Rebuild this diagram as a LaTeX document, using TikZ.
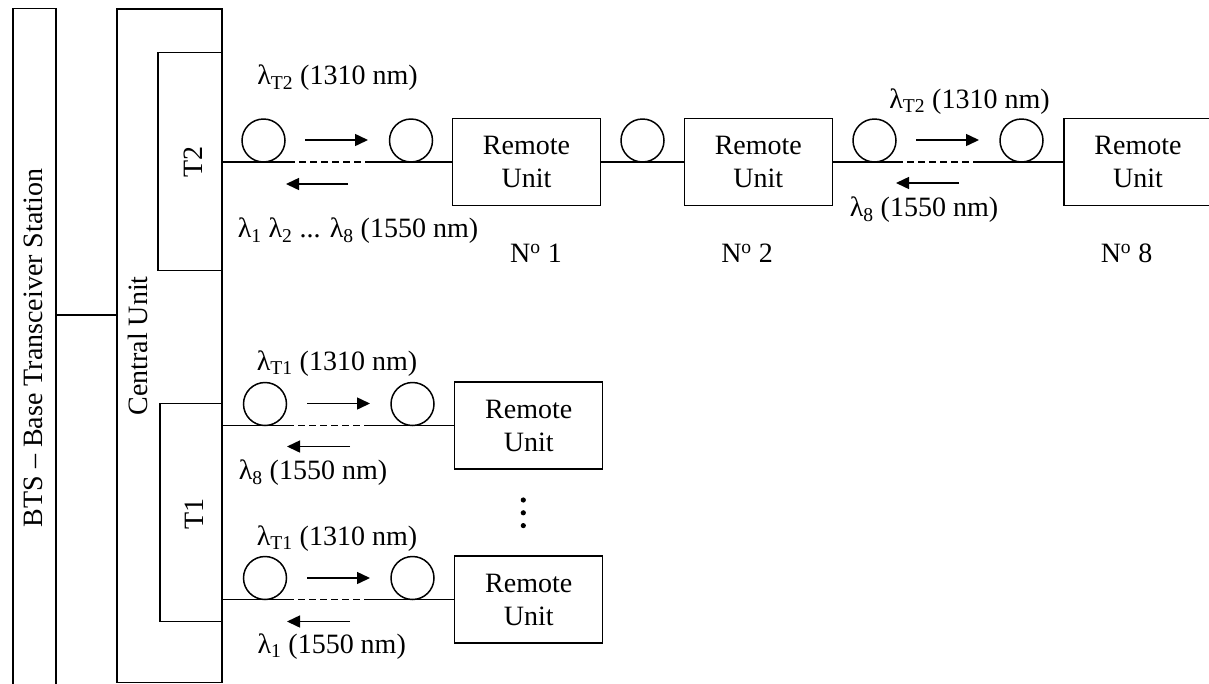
\documentclass[tikz,border=0pt]{standalone}
\usepackage{fontspec}
\setmainfont{Liberation Serif}
\usetikzlibrary{arrows.meta}
\begin{document}
\begin{tikzpicture}[x=1pt,y=-1pt,
  font=\fontsize{28}{33}\selectfont,
  line width=1.5pt,
  box/.style={draw, rectangle, inner sep=0pt},
  ru/.style={box, minimum width=148pt, minimum height=87pt, align=center},
  ring/.style={draw, circle, minimum size=43pt, inner sep=0pt},
  arr/.style={-{Triangle[length=13pt,width=12pt]}},
  dsh/.style={dash pattern=on 7pt off 4pt},
  lbl/.style={inner sep=0pt}]
\clip (0,0) rectangle (1209,683);
\fill[white] (0,0) rectangle (1209,683);

% BTS and central unit
\node[box, minimum width=43pt, minimum height=700pt] (bts) at (34.5,358.7) {};
\node[lbl, rotate=90] (btst) at (33,348) {BTS -- Base Transceiver Station};
\node[box, minimum width=105pt, minimum height=673.5pt] (cu) at (169.5,345.5) {};
\node[lbl, rotate=90] (cut) at (137.5,346) {Central Unit};
\node[box, fill=white, minimum width=63.5pt, minimum height=218pt] (t2) at (189.75,161.4) {};
\node[lbl, rotate=90] (t2t) at (193,162) {T2};
\node[box, fill=white, minimum width=61.5pt, minimum height=218pt] (t1) at (190.75,512.6) {};
\node[lbl, rotate=90] (t1t) at (194,514) {T1};
\coordinate (j0) at (0,315);
\draw (bts.east |- j0) -- (cu.west |- j0);

% ---------- upper chain (T2) ----------
\node[ring] (c1) at (263.5,140.5) {};
\node[ring] (c2) at (411,140.5) {};
\node[ru] (ru1) at (526.5,162) {Remote\\Unit};
\node[ring] (c3) at (642.5,140.5) {};
\node[ru] (ru2) at (758.3,162) {Remote\\Unit};
\node[ring] (c4) at (874.5,140.5) {};
\node[ring] (c5) at (1021.5,140.5) {};
\node[ru] (ru8) at (1138,162) {Remote\\Unit};

\coordinate (d1s) at (288,162);
\coordinate (d1e) at (368,162);
\draw (t2.east |- d1s) -- (d1s);
\draw[dsh] (d1s) -- (d1e);
\draw (d1e) -- (ru1.west);
\draw (ru1.east) -- (ru2.west);
\coordinate (d2s) at (896,162);
\coordinate (d2e) at (979,162);
\draw (ru2.east) -- (d2s);
\draw[dsh] (d2s) -- (d2e);
\draw (d2e) -- (ru8.west);

\coordinate (a1s) at (305,140);
\coordinate (a1e) at (368,140);
\draw[arr] (a1s) -- (a1e);
\coordinate (b1s) at (348,184);
\coordinate (b1e) at (286,184);
\draw[arr] (b1s) -- (b1e);
\coordinate (a2s) at (916,140);
\coordinate (a2e) at (979,140);
\draw[arr] (a2s) -- (a2e);
\coordinate (b2s) at (959,183);
\coordinate (b2e) at (896,183);
\draw[arr] (b2s) -- (b2e);

\node[lbl] (l1) at (337.5,78) {λ\textsubscript{T2} (1310 nm)};
\node[lbl, anchor=west] (l2) at (237,231) {λ\textsubscript{1} λ\textsubscript{2} ... λ\textsubscript{8} (1550 nm)};
\node[lbl] (l3) at (969.5,101.5) {λ\textsubscript{T2} (1310 nm)};
\node[lbl] (l4) at (924,210) {λ\textsubscript{8} (1550 nm)};
\node[lbl] (n1) at (536,253) {N\textsuperscript{o} 1};
\node[lbl] (n2) at (747,253) {N\textsuperscript{o} 2};
\node[lbl] (n8) at (1126.5,253) {N\textsuperscript{o} 8};

% ---------- lower branches (T1) ----------
\node[ring] (e1) at (265,404) {};
\node[ring] (e2) at (412.5,404) {};
\node[ru] (ru3) at (528.7,425.5) {Remote\\Unit};
\coordinate (d3s) at (287,425.5);
\coordinate (d3e) at (370,425.5);
\draw (t1.east |- d3s) -- (d3s);
\draw[dsh] (d3s) -- (d3e);
\draw (d3e) -- (ru3.west);
\coordinate (a3s) at (307,403.5);
\coordinate (a3e) at (370,403.5);
\draw[arr] (a3s) -- (a3e);
\coordinate (b3s) at (350,446.5);
\coordinate (b3e) at (287,446.5);
\draw[arr] (b3s) -- (b3e);
\node[lbl] (l5) at (337,363.5) {λ\textsubscript{T1} (1310 nm)};
\node[lbl] (l6) at (313,473) {λ\textsubscript{8} (1550 nm)};

\fill (523.3,500) circle (2.6pt) (523.3,512.8) circle (2.6pt) (523.3,525.6) circle (2.6pt);

\node[ring] (f1) at (265,578) {};
\node[ring] (f2) at (412.5,578) {};
\node[ru] (ru4) at (528.7,599.5) {Remote\\Unit};
\coordinate (d4s) at (287,599.5);
\coordinate (d4e) at (370,599.5);
\draw (t1.east |- d4s) -- (d4s);
\draw[dsh] (d4s) -- (d4e);
\draw (d4e) -- (ru4.west);
\coordinate (a4s) at (307,578);
\coordinate (a4e) at (370,578);
\draw[arr] (a4s) -- (a4e);
\coordinate (b4s) at (350,621.5);
\coordinate (b4e) at (287,621.5);
\draw[arr] (b4s) -- (b4e);
\node[lbl] (l7) at (337,538.5) {λ\textsubscript{T1} (1310 nm)};
\node[lbl] (l8) at (331.7,646.5) {λ\textsubscript{1} (1550 nm)};
\end{tikzpicture}
\end{document}
